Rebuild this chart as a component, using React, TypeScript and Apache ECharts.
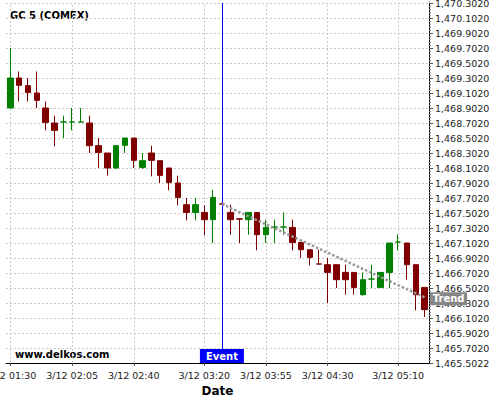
import React, { useEffect, useRef } from "react";
import * as echarts from "echarts";

const categories = [
  "3/12 01:30", "3/12 01:35", "3/12 01:40", "3/12 01:45", "3/12 01:50", "3/12 01:55",
  "3/12 02:00", "3/12 02:05", "3/12 02:10", "3/12 02:15", "3/12 02:20", "3/12 02:25",
  "3/12 02:30", "3/12 02:35", "3/12 02:40", "3/12 02:45", "3/12 02:50", "3/12 02:55",
  "3/12 03:00", "3/12 03:05", "3/12 03:10", "3/12 03:15", "3/12 03:20", "3/12 03:25",
  "3/12 03:30", "3/12 03:35", "3/12 03:40", "3/12 03:45", "3/12 03:50", "3/12 03:55",
  "3/12 04:00", "3/12 04:05", "3/12 04:10", "3/12 04:15", "3/12 04:20", "3/12 04:25",
  "3/12 04:30", "3/12 04:35", "3/12 04:40", "3/12 04:45", "3/12 04:50", "3/12 04:55",
  "3/12 05:00", "3/12 05:05", "3/12 05:10", "3/12 05:15", "3/12 05:20", "3/12 05:25",
];

const openValues = [
  1468.902, 1469.302, 1469.2, 1469.102, 1468.902, 1468.702,
  1468.716, 1468.716, 1468.716, 1468.702, 1468.4, 1468.302,
  1468.102, 1468.404, 1468.502, 1468.11, 1468.302, 1468.2,
  1468.102, 1467.902, 1467.613, 1467.51, 1467.51, 1467.413,
  1467.622, 1467.51, 1467.425, 1467.413, 1467.51, 1467.213,
  1467.315, 1467.315, 1467.31, 1467.11, 1467.013, 1466.822,
  1466.813, 1466.813, 1466.71, 1466.71, 1466.413, 1466.622,
  1466.51, 1466.71, 1467.116, 1467.102, 1466.813, 1466.51,
];
const closeValues = [
  1469.302, 1469.204, 1469.11, 1469.004, 1468.71, 1468.604,
  1468.716, 1468.716, 1468.716, 1468.4, 1468.31, 1468.102,
  1468.4, 1468.502, 1468.204, 1468.2, 1468.204, 1468.004,
  1467.91, 1467.71, 1467.51, 1467.613, 1467.413, 1467.71,
  1467.622, 1467.413, 1467.42, 1467.51, 1467.213, 1467.31,
  1467.315, 1467.315, 1467.11, 1467.013, 1466.91, 1466.822,
  1466.71, 1466.613, 1466.613, 1466.51, 1466.613, 1466.622,
  1466.71, 1467.102, 1467.116, 1466.813, 1466.413, 1466.213,
];
const lowValues = [
  1468.902, 1468.99, 1468.99, 1468.902, 1468.604, 1468.39,
  1468.502, 1468.604, 1468.716, 1468.302, 1468.102, 1468.0,
  1468.09, 1468.302, 1468.102, 1468.09, 1467.99, 1467.902,
  1467.804, 1467.604, 1467.404, 1467.404, 1467.204, 1467.102,
  1467.615, 1467.213, 1467.102, 1467.213, 1467.004, 1467.102,
  1467.102, 1467.213, 1467.004, 1466.902, 1466.804, 1466.82,
  1466.302, 1466.502, 1466.413, 1466.413, 1466.4, 1466.502,
  1466.51, 1466.502, 1467.004, 1466.613, 1466.204, 1466.116,
];
const highValues = [
  1469.702, 1469.39, 1469.302, 1469.39, 1468.99, 1468.8,
  1468.8, 1468.902, 1468.902, 1468.8, 1468.502, 1468.302,
  1468.41, 1468.502, 1468.502, 1468.302, 1468.4, 1468.2,
  1468.102, 1468.0, 1467.702, 1467.702, 1467.604, 1467.813,
  1467.628, 1467.613, 1467.425, 1467.51, 1467.51, 1467.413,
  1467.413, 1467.51, 1467.413, 1467.11, 1467.013, 1467.013,
  1466.902, 1466.813, 1466.813, 1466.71, 1466.71, 1466.813,
  1466.71, 1467.102, 1467.213, 1467.102, 1466.813, 1466.51,
];

const xTickLabels = [
  "3/12 01:30", "3/12 02:05", "3/12 02:40", "3/12 03:20",
  "3/12 03:55", "3/12 04:30", "3/12 05:10",
];

const eventTime = "3/12 03:30";
const trendStart: [string, number] = ["3/12 03:30", 1467.622];
const trendEnd: [string, number] = ["3/12 05:25", 1466.378];

const yMin = 1465.5022;
const yMax = 1470.3022;
const yStep = 0.2;

const FONT = "DejaVu Sans";

function formatPrice(v: number): string {
  const s = v.toFixed(4);
  const parts = s.split(".");
  const intPart = parts[0].replace(/\B(?=(\d{3})+(?!\d))/g, ",");
  return intPart + "." + parts[1];
}

export default function App() {
  const ref = useRef<HTMLDivElement>(null);

  useEffect(() => {
    if (!ref.current) return;
    const chart = echarts.init(ref.current, null, { renderer: "svg" });

    const candleData = categories.map((_, i) => [
      openValues[i],
      closeValues[i],
      lowValues[i],
      highValues[i],
    ]);

    const showTick = (index: number) =>
      xTickLabels.indexOf(categories[index]) >= 0;

    const option: any = {
      animation: false,
      backgroundColor: "#ffffff",
      textStyle: { fontFamily: FONT },
      grid: {
        left: 6,
        right: 71,
        top: 3,
        bottom: 37,
        containLabel: false,
        outerBoundsMode: "none",
      },
      xAxis: {
        type: "category",
        data: categories,
        boundaryGap: true,
        axisLine: { show: true, lineStyle: { color: "#000", width: 1 } },
        axisTick: {
          show: true,
          alignWithLabel: true,
          interval: showTick,
          length: 3,
          lineStyle: { color: "#555" },
        },
        axisLabel: {
          interval: showTick,
          fontSize: 9.5,
          color: "#222",
          margin: 7,
          fontFamily: FONT,
        },
        splitLine: { show: false },
        name: "Date",
        nameLocation: "middle",
        nameGap: 20,
        nameTextStyle: {
          fontWeight: "bold",
          fontSize: 12,
          color: "#000",
          fontFamily: FONT,
        },
      },
      yAxis: {
        type: "value",
        position: "right",
        min: yMin,
        max: yMax,
        interval: yStep,
        axisLine: { show: true, lineStyle: { color: "#000", width: 1 } },
        axisTick: { show: true, length: 4, lineStyle: { color: "#555" } },
        minorTick: {
          show: true,
          splitNumber: 5,
          length: 2,
          lineStyle: { color: "#888" },
        },
        axisLabel: {
          formatter: (v: number) => formatPrice(v),
          fontSize: 9.5,
          color: "#222",
          margin: 6,
          padding: [3, 0, 0, 0],
          fontFamily: FONT,
        },
        splitLine: {
          show: true,
          lineStyle: { color: "#c8c8c8", type: [2, 2], width: 1 },
        },
      },
      series: [
        {
          type: "line",
          data: [],
          silent: true,
          markLine: {
            silent: true,
            z: 1,
            symbol: ["none", "none"],
            label: { show: false },
            lineStyle: { color: "#c8c8c8", type: [2, 2], width: 1 },
            data: xTickLabels.map((t) => ({ xAxis: t })),
          },
        },
        {
          type: "candlestick",
          data: candleData,
          barWidth: 6,
          z: 3,
          itemStyle: {
            color: "#008000",
            color0: "#800000",
            borderColor: "#008000",
            borderColor0: "#800000",
            borderWidth: 1,
          },
          markLine: {
            silent: true,
            symbol: ["none", "none"],
            label: { show: false },
            data: [
              {
                xAxis: eventTime,
                lineStyle: { color: "#0000ff", type: "solid", width: 1 },
              },
              [
                {
                  coord: trendStart,
                  lineStyle: { color: "#9a9a9a", type: [2.5, 2], width: 2.5 },
                },
                { coord: trendEnd },
              ],
            ],
          },
          markPoint: {
            silent: true,
            data: [
              {
                coord: [eventTime, yMin],
                symbol: "rect",
                symbolSize: [44, 14],
                symbolOffset: [0, -7],
                itemStyle: { color: "#0000ff" },
                label: {
                  show: true,
                  position: "inside",
                  formatter: "Event",
                  color: "#fff",
                  fontWeight: "bold",
                  fontSize: 10,
                  fontFamily: FONT,
                },
              },
              {
                coord: trendEnd,
                symbol: "rect",
                symbolSize: [37, 13],
                symbolOffset: [24, 1.4],
                itemStyle: { color: "#878787" },
                label: {
                  show: true,
                  position: "inside",
                  formatter: "Trend",
                  color: "#fff",
                  fontWeight: "bold",
                  fontSize: 10,
                  fontFamily: FONT,
                },
              },
            ],
          },
        },
      ],
      graphic: [
        {
          type: "text",
          left: 10,
          top: 10,
          style: {
            text: "GC 5 (COMEX)",
            font: `bold 10px "${FONT}"`,
            fill: "#000",
          },
        },
        {
          type: "text",
          left: 15,
          top: 349,
          style: {
            text: "www.delkos.com",
            font: `bold 10px "${FONT}"`,
            fill: "#000",
          },
        },
      ],
    };

    chart.setOption(option);
    return () => chart.dispose();
  }, []);

  return (
    <div
      ref={ref}
      style={{
        position: "fixed",
        left: 0,
        top: 0,
        width: 500,
        height: 400,
        background: "#fff",
      }}
    />
  );
}
